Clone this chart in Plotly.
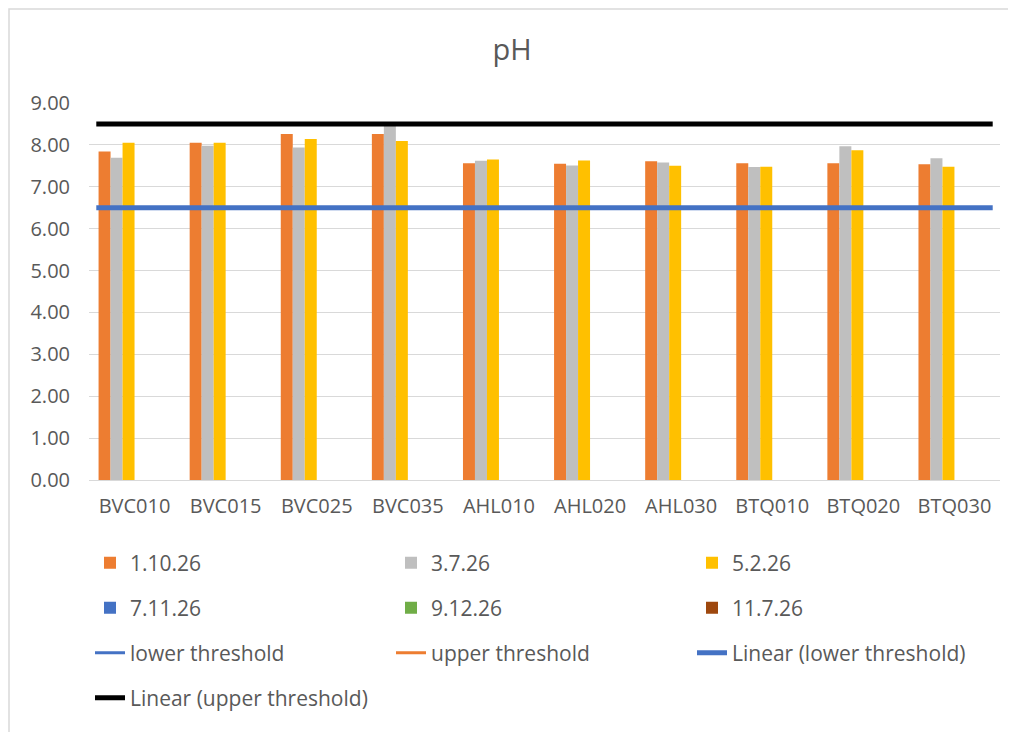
import plotly.graph_objects as go

categories = ["BVC010", "BVC015", "BVC025", "BVC035", "AHL010",
              "AHL020", "AHL030", "BTQ010", "BTQ020", "BTQ030"]
series_names = ["1.10.26", "3.7.26", "5.2.26", "7.11.26", "9.12.26", "11.7.26"]
s_1_10_26 = [7.84, 8.05, 8.26, 8.26, 7.56, 7.55, 7.61, 7.56, 7.56, 7.54]
s_3_7_26 = [7.69, 7.98, 7.94, 8.45, 7.62, 7.51, 7.58, 7.47, 7.97, 7.68]
s_5_2_26 = [8.05, 8.05, 8.14, 8.09, 7.65, 7.63, 7.50, 7.48, 7.87, 7.48]
s_7_11_26 = [None] * 10
s_9_12_26 = [None] * 10
s_11_7_26 = [None] * 10
lower_threshold = [6.5] * 10
upper_threshold = [8.5] * 10
y_ticks = [0, 1, 2, 3, 4, 5, 6, 7, 8, 9]

bar_values = [s_1_10_26, s_3_7_26, s_5_2_26, s_7_11_26, s_9_12_26, s_11_7_26]
bar_colors = ["#ED7D31", "#BFBFBF", "#FFC000", "#4472C4", "#70AD47", "#9E480E"]
bar_legends = ["legend", "legend", "legend", "legend2", "legend2", "legend2"]

xs = list(range(len(categories)))
forecast = 0.42

fig = go.Figure()
for name, vals, col, lg in zip(series_names, bar_values, bar_colors, bar_legends):
    fig.add_trace(go.Bar(x=xs, y=vals, name=name, marker_color=col,
                         marker_line_width=0, legend=lg))

fig.add_trace(go.Scatter(x=xs, y=lower_threshold, mode="lines", name="lower threshold",
                         line=dict(color="#4472C4", width=3), legend="legend3"))
fig.add_trace(go.Scatter(x=xs, y=upper_threshold, mode="lines", name="upper threshold",
                         line=dict(color="#ED7D31", width=3), legend="legend3"))
trend_x = [xs[0] - forecast, xs[-1] + forecast]
fig.add_trace(go.Scatter(x=trend_x, y=[lower_threshold[0], lower_threshold[-1]], mode="lines",
                         name="Linear (lower threshold)",
                         line=dict(color="#4472C4", width=5), legend="legend3"))
fig.add_trace(go.Scatter(x=trend_x, y=[upper_threshold[0], upper_threshold[-1]], mode="lines",
                         name="Linear (upper threshold)",
                         line=dict(color="#000000", width=5), legend="legend4"))

font_fam = "Open Sans, Liberation Sans, sans-serif"
tick_font = dict(family=font_fam, size=20, color="#595959")

# page has an 8px body margin; figure sized/offset to compensate
W, H = 1008, 724
ml, mt, mr, mb = 81, 95, 16, 252
plot_w = W - ml - mr
plot_h = H - mt - mb
row_gap = 45 / plot_h
row1 = -83 / plot_h

def leg(y):
    return dict(orientation="h", x=1 / plot_w, xanchor="left", y=y, yanchor="middle",
                entrywidth=256, entrywidthmode="pixels",
                font=dict(family=font_fam, size=21, color="#595959"),
                bgcolor="rgba(0,0,0,0)", traceorder="normal")

fig.update_layout(
    width=W, height=H,
    margin=dict(l=ml, r=mr, t=mt, b=mb, autoexpand=False),
    paper_bgcolor="white", plot_bgcolor="white",
    title=dict(text="pH", x=0.5, xanchor="center", y=1 - 42 / H, yanchor="middle",
               font=dict(family=font_fam, size=29, color="#595959")),
    barmode="group", bargap=0.21, bargroupgap=0,
    showlegend=True,
    legend=leg(row1),
    legend2=leg(row1 - row_gap),
    legend3=leg(row1 - 2 * row_gap),
    legend4=leg(row1 - 3 * row_gap),
    xaxis=dict(range=[-0.5, len(categories) - 0.5], tickmode="array", tickvals=xs,
               ticktext=categories, showgrid=False, zeroline=False, showline=False,
               tickfont=tick_font, ticks="", ticklabelstandoff=12, fixedrange=True),
    yaxis=dict(range=[0, 9], tickmode="array", tickvals=y_ticks,
               ticktext=[f"{v:.2f}" for v in y_ticks],
               showgrid=True, gridcolor="#D9D9D9", gridwidth=1.3,
               zeroline=True, zerolinecolor="#D9D9D9", zerolinewidth=1.3,
               showline=False, tickfont=tick_font, ticks="", ticklabelstandoff=18,
               fixedrange=True),
    shapes=[dict(type="rect", xref="paper", yref="paper",
                 x0=-(ml - 1) / plot_w, x1=1.2, y0=-1.5, y1=1 + (mt - 1) / plot_h,
                 line=dict(color="#D9D9D9", width=1.5), fillcolor="rgba(0,0,0,0)",
                 layer="below")],
)

fig.write_html("out.html")
